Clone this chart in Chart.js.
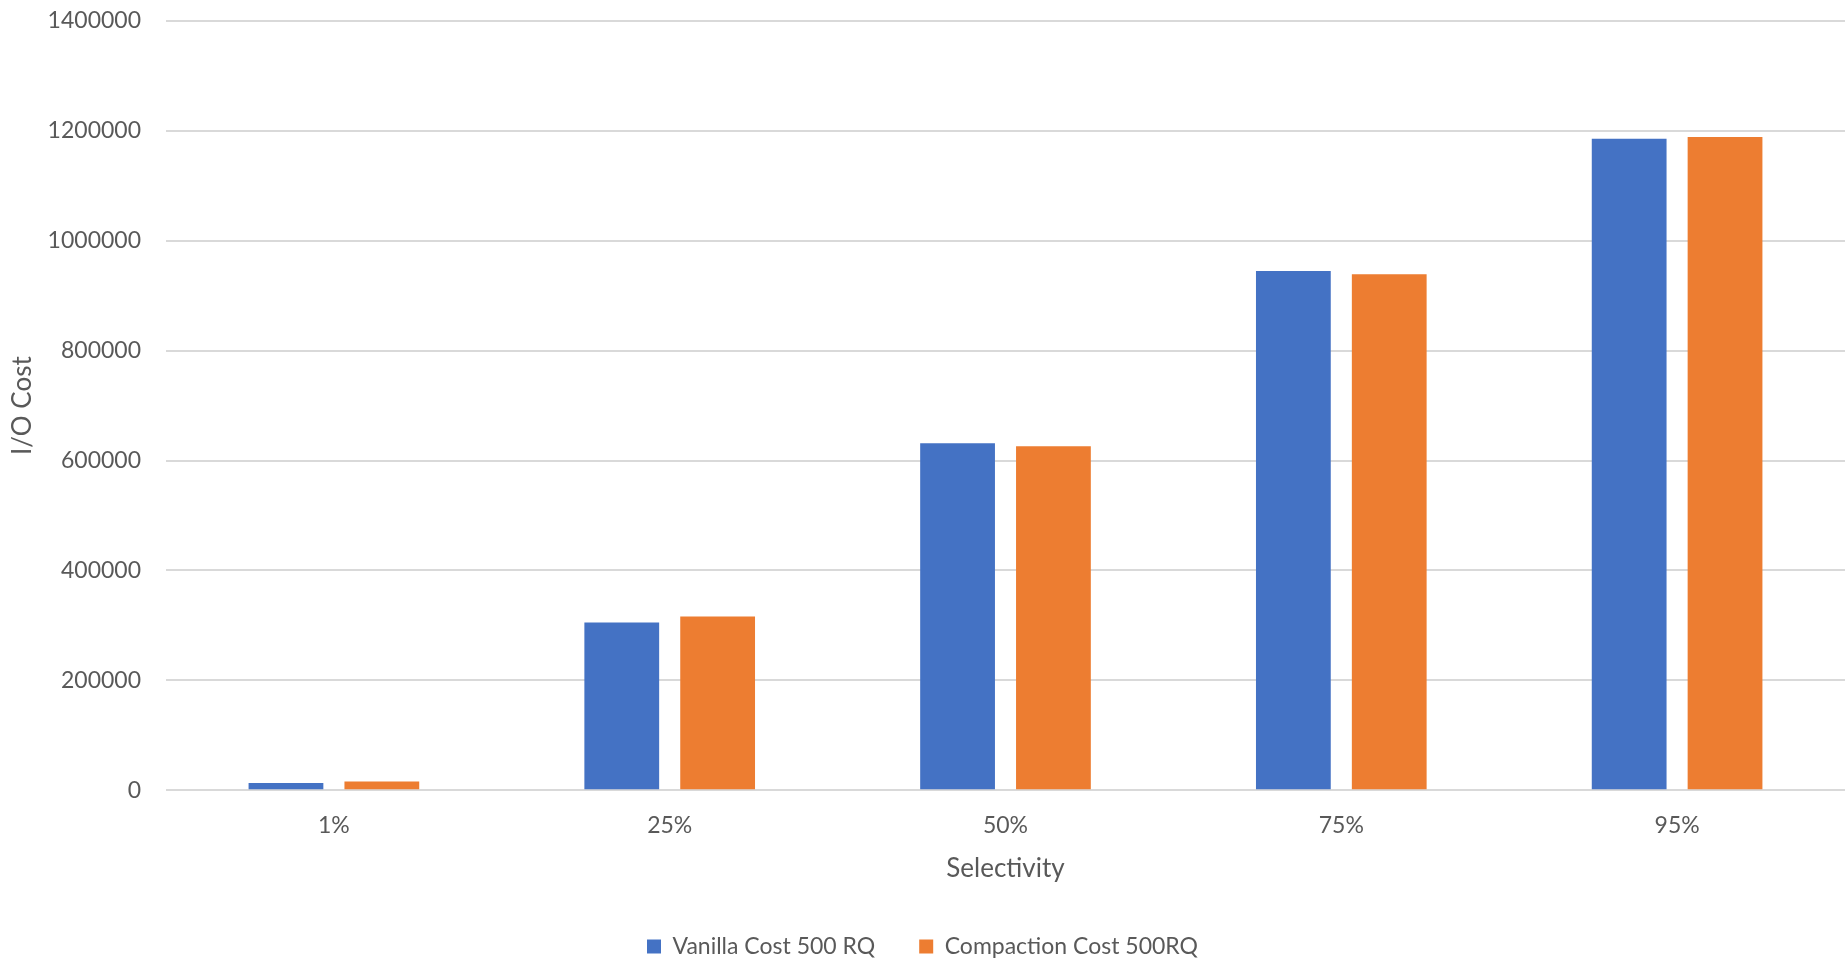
<!DOCTYPE html>
<html>
<head>
<meta charset="utf-8">
<title>I/O Cost by Selectivity</title>
<script src="https://cdn.jsdelivr.net/npm/chart.js@4"></script>
<style>
    html, body { margin: 0; padding: 0; background: #fff; }
    #wrap { width: 1845px; height: 959px; }
</style>
</head>
<body>
<div id="wrap"><canvas id="costChart"></canvas></div>
<script>
// 选择率类别与两组 I/O 开销
const selectivity = ['1%', '25%', '50%', '75%', '95%'];
const vanillaCost = [13300, 305000, 631700, 945000, 1185600];
const compactionCost = [15900, 316000, 626000, 939000, 1188700];
const yTicks = [0, 200000, 400000, 600000, 800000, 1000000, 1200000, 1400000];

const textColor = '#595959';
const fontFamily = 'Lato, "Liberation Sans", sans-serif';

document.addEventListener('DOMContentLoaded', function() {
    const ctx = document.getElementById('costChart').getContext('2d');
    new Chart(ctx, {
        type: 'bar',
        data: {
            labels: selectivity,
            datasets: [
                {
                    label: 'Vanilla Cost 500 RQ',
                    data: vanillaCost,
                    backgroundColor: '#4472C4',
                    borderWidth: 0
                },
                {
                    label: 'Compaction Cost 500RQ',
                    data: compactionCost,
                    backgroundColor: '#ED7D31',
                    borderWidth: 0
                }
            ]
        },
        options: {
            responsive: true,
            maintainAspectRatio: false,
            animation: false,
            categoryPercentage: 0.571,
            barPercentage: 0.78,
            layout: {
                padding: { top: 21, right: 0, bottom: -9, left: 0 }
            },
            plugins: {
                legend: {
                    position: 'bottom',
                    labels: {
                        color: textColor,
                        font: { family: fontFamily, size: 23 },
                        boxWidth: 14,
                        boxHeight: 14,
                        padding: 44
                    }
                },
                tooltip: { enabled: false }
            },
            scales: {
                x: {
                    grid: { display: false, drawTicks: false },
                    border: { display: false },
                    ticks: {
                        color: textColor,
                        font: { family: fontFamily, size: 23 },
                        padding: 22
                    },
                    title: {
                        display: true,
                        text: 'Selectivity',
                        color: textColor,
                        font: { family: fontFamily, size: 26 },
                        padding: { top: -9, bottom: 7 }
                    }
                },
                y: {
                    min: 0,
                    max: 1400000,
                    afterBuildTicks: function(scale) {
                        scale.ticks = yTicks.map(v => ({ value: v }));
                    },
                    afterFit: function(scale) {
                        // 固定纵轴宽度，顶部留白交给 layout.padding
                        scale.width = 166;
                        scale.paddingTop = 0;
                        scale.paddingBottom = 0;
                    },
                    grid: {
                        color: '#d9d9d9',
                        lineWidth: 2,
                        drawTicks: false
                    },
                    border: { display: false },
                    ticks: {
                        color: textColor,
                        font: { family: fontFamily, size: 23 },
                        padding: 25,
                        callback: function(value) { return String(value); }
                    },
                    title: {
                        display: true,
                        text: 'I/O Cost',
                        color: textColor,
                        font: { family: fontFamily, size: 26 },
                        padding: { top: 7, bottom: 0 }
                    }
                }
            }
        }
    });
});
</script>
</body>
</html>
